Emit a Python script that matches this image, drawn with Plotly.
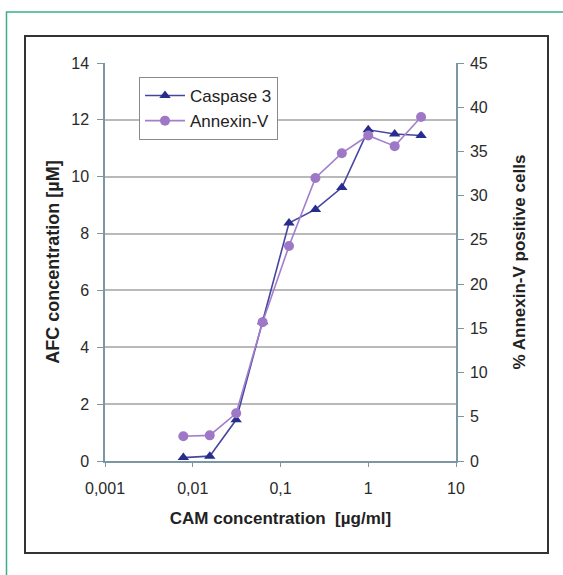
import plotly.graph_objects as go

# Data
cam_conc = [0.0078125, 0.015625, 0.03125, 0.0625, 0.125, 0.25, 0.5, 1, 2, 4]
caspase3 = [0.12, 0.17, 1.45, 4.9, 8.37, 8.85, 9.62, 11.65, 11.5, 11.45]
annexin_v = [2.8, 2.9, 5.4, 15.7, 24.3, 32.0, 34.8, 36.8, 35.6, 38.9]

x_tickvals = [0.001, 0.01, 0.1, 1, 10]
x_ticktext = ["0,001", "0,01", "0,1", "1", "10"]

# Layout geometry (pixels)
W, H = 563, 575
L, R, T, B = 105, 456, 63, 461
pw, ph = R - L, B - T

def px(x):
    return (x - L) / pw

def py(y):
    return (B - y) / ph

font = "Liberation Sans, Arial, sans-serif"
title_font = dict(size=17, color="#222222", family=font)

fig = go.Figure()
fig.add_trace(go.Scatter(
    x=cam_conc, y=caspase3, name="Caspase 3", mode="lines+markers",
    line=dict(color="#4646a0", width=1.6),
    marker=dict(symbol="triangle-up", size=10, color="#262d8c"),
    legendgroup="a"))
fig.add_trace(go.Scatter(
    x=cam_conc, y=annexin_v, name="Annexin-V", mode="lines+markers",
    line=dict(color="#a27fcb", width=1.6),
    marker=dict(symbol="circle", size=10, color="#9e78c6"),
    yaxis="y2", legendgroup="b"))

axis_col = "#7c97a3"
fig.update_layout(
    width=W, height=H,
    margin=dict(l=L, r=W - R, t=T, b=H - B, pad=0),
    paper_bgcolor="white", plot_bgcolor="white",
    font=dict(family=font, size=16, color="#2a2a2a"),
    showlegend=True,
    legend=dict(x=px(139), y=py(77), xanchor="left", yanchor="top",
                bgcolor="white", bordercolor="#8a8a8a", borderwidth=1,
                font=dict(size=17, color="#222222"), itemwidth=40,
                traceorder="grouped", tracegroupgap=0),
    xaxis=dict(type="log", range=[-3, 1], tickvals=x_tickvals, ticktext=x_ticktext,
               showgrid=False, showline=True, linecolor=axis_col, linewidth=1.5,
               ticks="outside", ticklen=4, tickcolor=axis_col, ticklabelstandoff=8,
               title=dict(text="<b>CAM concentration  [µg/ml]</b>", standoff=16,
                          font=title_font),
               zeroline=False),
    yaxis=dict(range=[0, 14], dtick=2, showgrid=True, gridcolor="#b9b9b9", gridwidth=1.5,
               showline=True, linecolor=axis_col, linewidth=1.5,
               ticks="outside", ticklen=6, tickcolor=axis_col, zeroline=False,
               ticklabelstandoff=5,
               title=dict(text="<b>AFC concentration [µM]</b>", standoff=7,
                          font=dict(size=18, color="#222222", family=font))),
    yaxis2=dict(range=[0, 45], dtick=5, overlaying="y", side="right", showgrid=False,
                showline=True, linecolor=axis_col, linewidth=1.5,
                ticks="outside", ticklen=6, tickcolor=axis_col, zeroline=False,
                ticklabelstandoff=3,
                title=dict(text="<b>% Annexin-V positive cells</b>", standoff=26,
                           font=title_font)),
)

# Outer green frame and inner black box
fig.add_shape(type="rect", xref="paper", yref="paper",
              x0=px(6.5), y0=py(620), x1=px(620), y1=py(12),
              line=dict(color="#3dae86", width=1.5), layer="below")
fig.add_shape(type="rect", xref="paper", yref="paper",
              x0=px(25), y0=py(553), x1=px(548), y1=py(36),
              line=dict(color="#333333", width=2), layer="below")

fig.write_html("out.html", post_script="document.body.style.margin='0';",
               config={"displayModeBar": False})
